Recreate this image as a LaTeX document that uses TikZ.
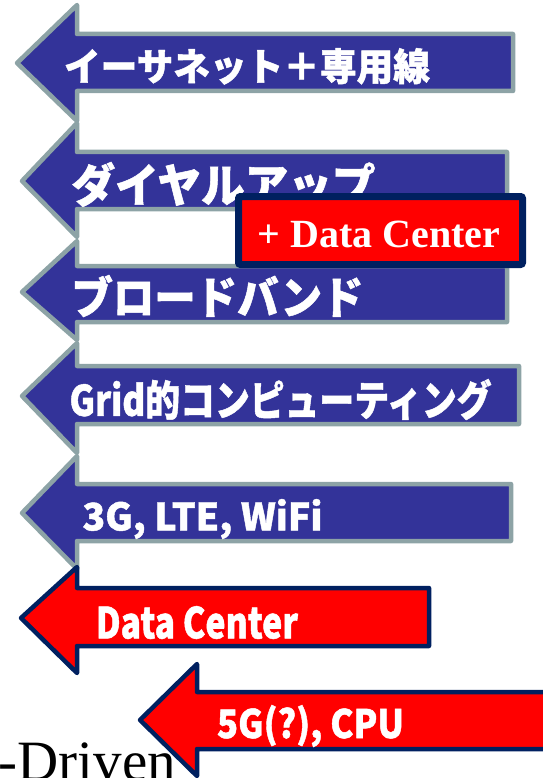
\documentclass[tikz,border=0pt]{standalone}
\usepackage{fontspec}
\usepackage{graphicx}
\setmainfont{Liberation Serif}
\newfontfamily\jpfont{Noto Sans CJK JP}[BoldFeatures={FakeBold=1.2}]
\definecolor{arrowblue}{HTML}{333399}
\definecolor{arrowgray}{HTML}{8DA3A6}
\definecolor{navyline}{HTML}{002060}
\definecolor{brightred}{HTML}{FF0000}
\newcommand{\fitlabel}[3]{\resizebox*{#1}{#2}{\jpfont\bfseries\fontsize{40}{40}\selectfont #3}}
\newcommand{\arrowpoly}[9]{\draw[#1] (#9,#7) -- (#4,#7) -- (#4,#5) -- (#2,#3) -- (#4,#6) -- (#4,#8) -- (#9,#8) -- cycle;}
\tikzset{
  bluearrow/.style={fill=arrowblue, draw=arrowgray, line width=4.5pt, line join=round},
  redarrow/.style={fill=brightred, draw=navyline, line width=4.5pt, line join=round},
  lbl/.style={inner sep=0pt, outer sep=0pt, text=white},
  dcbox/.style={draw=navyline, fill=brightred, line width=7pt, rounded corners=2pt, inner sep=0pt}
}
\begin{document}
\begin{tikzpicture}[x=1pt,y=-1pt]
\useasboundingbox (0,0) rectangle (542,778);
% arrows: style, tipx, tipy, headx, headtop, headbottom, shafttop, shaftbottom, right
\arrowpoly{bluearrow}{17}{63}{77}{5}{121}{34}{91}{513}
\arrowpoly{bluearrow}{22}{181}{77}{123}{237}{152}{209}{507}
\arrowpoly{bluearrow}{22}{292}{77}{241}{340}{266}{322}{507}
\arrowpoly{bluearrow}{22}{396}{77}{343}{453}{366}{424}{519}
\arrowpoly{bluearrow}{22}{513}{77}{456}{569}{484}{541}{511}
\arrowpoly{redarrow}{21}{618}{77}{567}{673}{588}{646}{429}

\node[lbl] (t1) at (247,66.3) {\fitlabel{366pt}{36.5pt}{イーサネット＋専用線}};
\node[lbl] (t2) at (223.5,184.5) {\fitlabel{304pt}{45pt}{ダイヤルアップ}};
\node[lbl] (t3) at (217.5,296) {\fitlabel{292pt}{42pt}{ブロードバンド}};
\node[lbl] (t4) at (280.5,399.5) {\fitlabel{422pt}{41pt}{Grid的コンピューティング}};
\node[lbl] (t5) at (202.5,519) {\fitlabel{240pt}{40pt}{3G, LTE, WiFi}};
\node[lbl] (t6) at (197,622.5) {\fitlabel{202pt}{33pt}{Data Center}};

\node[dcbox, minimum width=284pt, minimum height=68pt] (dc) at (380.5,230.5) {};
\node[lbl, anchor=base, font=\bfseries\fontsize{40}{40}\selectfont] (dct) at (379,247) {+ Data Center};

\arrowpoly{redarrow}{140}{720}{197}{664}{776}{692}{749}{570}
\node[lbl] (t7) at (310.5,726) {\fitlabel{187pt}{42pt}{5G(?), CPU}};

\node[inner sep=0pt, anchor=base west, font=\fontsize{57}{57}\selectfont] (drv) at (-1.5,780) {-Driven};
\end{tikzpicture}
\end{document}
